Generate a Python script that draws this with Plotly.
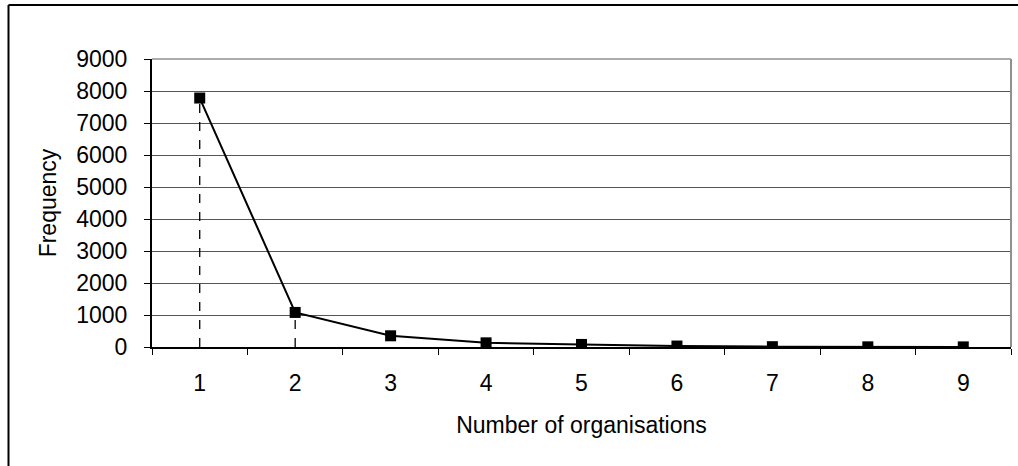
import plotly.graph_objects as go

categories = ["1", "2", "3", "4", "5", "6", "7", "8", "9"]
frequency = [7780, 1080, 350, 130, 80, 30, 10, 5, 3]
drop_categories = ["1", "2"]
y_ticks = [0, 1000, 2000, 3000, 4000, 5000, 6000, 7000, 8000, 9000]

FONT = "Liberation Sans, Arial, sans-serif"
FS = 23

fig = go.Figure()

for c in drop_categories:
    v = frequency[categories.index(c)]
    fig.add_trace(go.Scatter(
        x=[c, c], y=[0, v], mode="lines",
        line=dict(color="black", width=1.3, dash="dash"),
        showlegend=False, hoverinfo="skip"))

fig.add_trace(go.Scatter(
    x=categories, y=frequency, mode="lines+markers",
    line=dict(color="black", width=2),
    marker=dict(symbol="square", size=11, color="black"),
    showlegend=False))

W, H = 1018, 466
L, R, T, B = 152, 7, 59, 119
pw, ph = W - L - R, H - T - B

def px_x(x):
    return (x - L) / pw

def px_y(y):
    return (H - B - y) / ph

shapes = [
    dict(type="line", xref="paper", yref="paper", x0=0, x1=1, y0=1, y1=1,
         line=dict(color="#909090", width=1.5), layer="above"),
    dict(type="line", xref="paper", yref="paper", x0=1, x1=1, y0=0, y1=1,
         line=dict(color="#909090", width=2), layer="above"),
    dict(type="line", xref="paper", yref="paper", x0=px_x(8.5), x1=px_x(8.5),
         y0=px_y(5), y1=px_y(480), line=dict(color="black", width=2)),
    dict(type="line", xref="paper", yref="paper", x0=px_x(8.5), x1=px_x(1040),
         y0=px_y(5), y1=px_y(5), line=dict(color="black", width=2)),
]

fig.update_layout(
    width=W, height=H,
    margin=dict(l=L, r=R, t=T, b=B),
    paper_bgcolor="white", plot_bgcolor="white",
    font=dict(family=FONT, size=FS, color="black"),
    shapes=shapes,
    xaxis=dict(
        type="category", categoryorder="array", categoryarray=categories,
        range=[-0.5, 8.5], tickson="boundaries", ticks="outside", ticklen=6,
        tickcolor="black", showline=True, linecolor="black", linewidth=2,
        showgrid=False, zeroline=False, tickfont=dict(size=FS),
        ticklabelstandoff=14,
        title=dict(text="Number of organisations", font=dict(size=FS), standoff=22),
    ),
    yaxis=dict(
        range=[0, 9000], tickvals=y_ticks, ticks="outside", ticklen=6,
        tickcolor="black", showline=True, linecolor="black", linewidth=2,
        showgrid=True, gridcolor="#555555", gridwidth=1, zeroline=False,
        tickfont=dict(size=FS), ticklabelstandoff=12,
        title=dict(text="Frequency", font=dict(size=FS), standoff=13),
    ),
)

fig.write_html(
    "out.html",
    config={"displayModeBar": False},
    post_script="document.body.style.margin='0';document.body.style.overflow='hidden';",
)
